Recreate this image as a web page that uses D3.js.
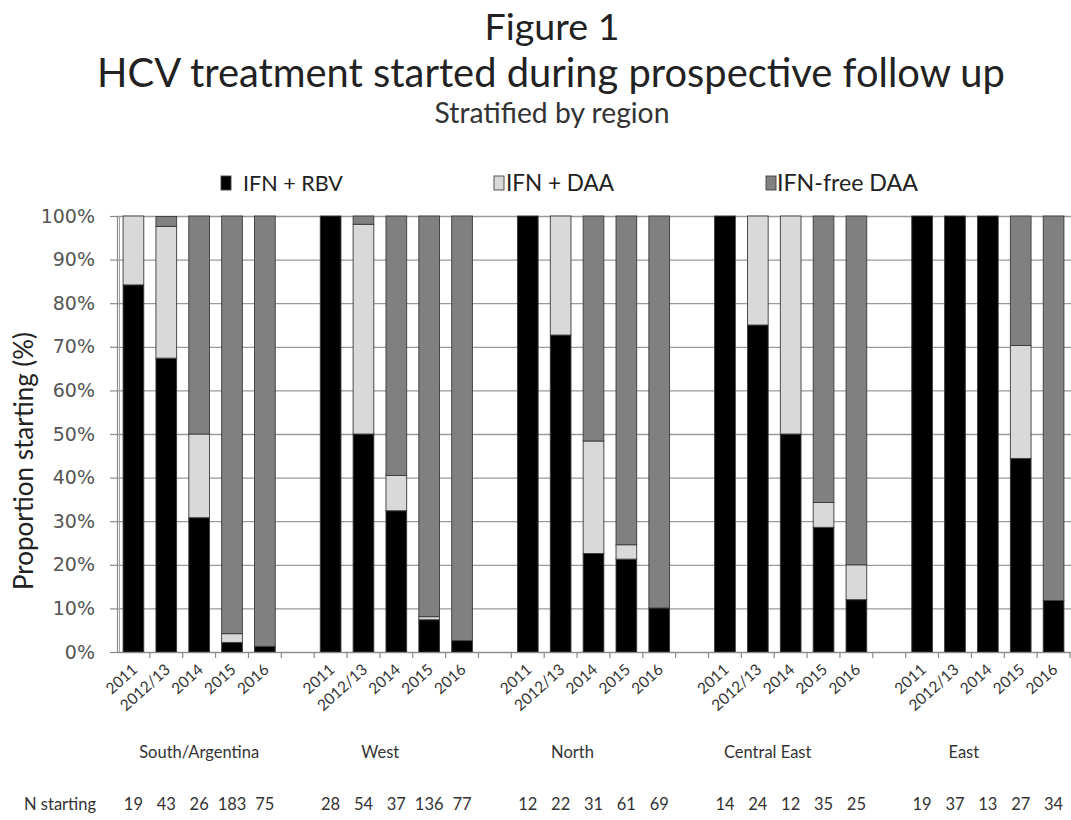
<!DOCTYPE html>
<html>
<head>
<meta charset="utf-8">
<script src="https://cdn.jsdelivr.net/npm/d3@7/dist/d3.min.js"></script>
<style>
  html, body { margin: 0; padding: 0; background: #ffffff; }
  svg { display: block; }
</style>
</head>
<body>
<svg id="chart" width="1071" height="820"></svg>
<script>
// ---------------- DATA ----------------
const regions = ["South/Argentina", "West", "North", "Central East", "East"];
const years = ["2011", "2012/13", "2014", "2015", "2016"];
const seriesNames = ["IFN + RBV", "IFN + DAA", "IFN-free DAA"];

// percentages per region (rows) and year (columns)
const ifnRbv = [
  [84.2, 67.4, 30.8, 2.2, 1.3],
  [100, 50.0, 32.4, 7.4, 2.6],
  [100, 72.7, 22.6, 21.3, 10.1],
  [100, 75.0, 50.0, 28.6, 12.0],
  [100, 100, 100, 44.4, 11.8]
];
const ifnDaa = [
  [15.8, 30.2, 19.2, 2.0, 0],
  [0, 48.1, 8.1, 0.7, 0],
  [0, 27.3, 25.8, 3.3, 0],
  [0, 25.0, 50.0, 5.7, 8.0],
  [0, 0, 0, 25.9, 0]
];
const ifnFree = [
  [0, 2.3, 50.0, 95.8, 98.7],
  [0, 1.9, 59.5, 91.9, 97.4],
  [0, 0, 51.6, 75.4, 89.9],
  [0, 0, 0, 65.7, 80.0],
  [0, 0, 0, 29.7, 88.2]
];
const nStarting = [
  [19, 43, 26, 183, 75],
  [28, 54, 37, 136, 77],
  [12, 22, 31, 61, 69],
  [14, 24, 12, 35, 25],
  [19, 37, 13, 27, 34]
];
const yTicks = [0, 10, 20, 30, 40, 50, 60, 70, 80, 90, 100];

// ---------------- LAYOUT ----------------
const W = 1071, H = 820;
const plotL = 117, plotR = 1070, plotT = 216, plotB = 652;
const colors = ["#000000", "#d9d9d9", "#808080"];
const FONT = "Lato, 'Open Sans', sans-serif";

const svg = d3.select("#chart");
svg.append("rect").attr("width", W).attr("height", H).attr("fill", "#fff");

// rows for stacking
const rows = [];
const domain = [];
regions.forEach((r, i) => {
  years.forEach((yv, j) => {
    const key = r + "|" + yv;
    domain.push(key);
    rows.push({ key, region: r, year: yv, ri: i, yi: j,
      "IFN + RBV": ifnRbv[i][j], "IFN + DAA": ifnDaa[i][j], "IFN-free DAA": ifnFree[i][j],
      n: nStarting[i][j] });
  });
  if (i < regions.length - 1) domain.push("gap" + i);
});

const x = d3.scaleBand().domain(domain).range([plotL, plotR])
  .paddingInner(0.37).paddingOuter(0.185);
const y = d3.scaleLinear().domain([0, 100]).range([plotB, plotT]);

// gridlines
svg.append("g").selectAll("line").data(yTicks).join("line")
  .attr("x1", plotL).attr("x2", W)
  .attr("y1", d => y(d) + 0.5).attr("y2", d => y(d) + 0.5)
  .attr("stroke", "#9a9a9a").attr("stroke-width", 1.3);

// stacked bars
const stack = d3.stack().keys(seriesNames);
const stacked = stack(rows);
const gBars = svg.append("g");
stacked.forEach((s, si) => {
  gBars.append("g").selectAll("rect")
    .data(s.filter(d => d[1] - d[0] > 0))
    .join("rect")
    .attr("x", d => x(d.data.key))
    .attr("width", x.bandwidth())
    .attr("y", d => y(d[1]))
    .attr("height", d => y(d[0]) - y(d[1]))
    .attr("fill", colors[si])
    .attr("stroke", "#3a3a3a")
    .attr("stroke-width", 0.9);
});

// y axis
const yAxis = d3.axisLeft(y).tickValues(yTicks).tickFormat(d => d + "%")
  .tickSize(7).tickPadding(15);
const gy = svg.append("g").attr("transform", `translate(${plotL},0)`).call(yAxis);
gy.select(".domain").attr("stroke", "#8a8a8a").attr("stroke-width", 1.2);
gy.selectAll(".tick line").attr("stroke", "#8a8a8a").attr("stroke-width", 1.2);
gy.selectAll(".tick text").attr("font-family", "'DejaVu Sans', sans-serif")
  .attr("font-size", 19).attr("fill", "#555");
svg.append("line").attr("x1", plotL + 2.5).attr("x2", plotL + 2.5)
  .attr("y1", plotT).attr("y2", plotB).attr("stroke", "#a0a0a0").attr("stroke-width", 1);

// x axis line + boundary ticks
svg.append("line").attr("x1", plotL).attr("x2", W).attr("y1", plotB + 0.5).attr("y2", plotB + 0.5)
  .attr("stroke", "#8a8a8a").attr("stroke-width", 1.2);
const step = x.step();
svg.append("g").selectAll("line").data(domain).join("line")
  .attr("x1", d => x(d) + x.bandwidth() / 2 + step / 2)
  .attr("x2", d => x(d) + x.bandwidth() / 2 + step / 2)
  .attr("y1", plotB).attr("y2", plotB + 6)
  .attr("stroke", "#8a8a8a").attr("stroke-width", 1.2);

// x tick labels (rotated)
svg.append("g").selectAll("text").data(rows).join("text")
  .attr("transform", d => `translate(${x(d.key) + x.bandwidth() / 2 + 5},${plotB + 19}) rotate(-42)`)
  .attr("text-anchor", "end")
  .attr("font-family", FONT).attr("font-size", 15.5).attr("fill", "#333")
  .text(d => d.year);

// group labels
const groupNudge = [0, -16, -21, -23, -24];
svg.append("g").selectAll("text").data(regions).join("text")
  .attr("x", (r, i) => x(r + "|" + years[2]) + x.bandwidth() / 2 + groupNudge[i])
  .attr("y", 758)
  .attr("text-anchor", "middle")
  .attr("font-family", FONT).attr("font-size", 16.5).attr("fill", "#333")
  .text(d => d);

// N starting row
svg.append("text").attr("x", 24).attr("y", 810)
  .attr("font-family", FONT).attr("font-size", 16.5).attr("fill", "#333")
  .text("N starting");
svg.append("g").selectAll("text").data(rows).join("text")
  .attr("x", d => x(d.key) + x.bandwidth() / 2)
  .attr("y", 810)
  .attr("text-anchor", "middle")
  .attr("font-family", FONT).attr("font-size", 16.5).attr("fill", "#333")
  .text(d => d.n);

// y axis title
svg.append("text")
  .attr("transform", "translate(33,461) rotate(-90)")
  .attr("text-anchor", "middle")
  .attr("font-family", FONT).attr("font-size", 26).attr("fill", "#222")
  .text("Proportion starting (%)");

// helper: scale font so the text has the target width
function fit(sel, w) {
  const cur = sel.node().getComputedTextLength();
  const fs = parseFloat(sel.attr("font-size"));
  if (cur > 0) sel.attr("font-size", (fs * w / cur).toFixed(2));
  return sel;
}

// titles
fit(svg.append("text").attr("x", 552).attr("y", 40).attr("text-anchor", "middle")
  .attr("font-family", FONT).attr("font-size", 38).attr("fill", "#222").text("Figure 1"), 135);
fit(svg.append("text").attr("x", 551).attr("y", 87).attr("text-anchor", "middle")
  .attr("font-family", FONT).attr("font-size", 38).attr("fill", "#222")
  .text("HCV treatment started during prospective follow up"), 908);
fit(svg.append("text").attr("x", 552).attr("y", 123).attr("text-anchor", "middle")
  .attr("font-family", FONT).attr("font-size", 26).attr("fill", "#333")
  .text("Stratified by region"), 235);

// legend
const legX = [221, 494, 766];
const legTextX = [243, 506, 777];
const legW = [100, 108, 141];
const gLeg = svg.append("g");
seriesNames.forEach((s, i) => {
  gLeg.append("rect").attr("x", legX[i]).attr("y", 176).attr("width", 10).attr("height", 14)
    .attr("fill", colors[i]).attr("stroke", "#444").attr("stroke-width", 0.9);
  fit(gLeg.append("text").attr("x", legTextX[i]).attr("y", 191)
    .attr("font-family", FONT).attr("font-size", 22).attr("fill", "#222").text(s), legW[i]);
});
</script>
</body>
</html>
